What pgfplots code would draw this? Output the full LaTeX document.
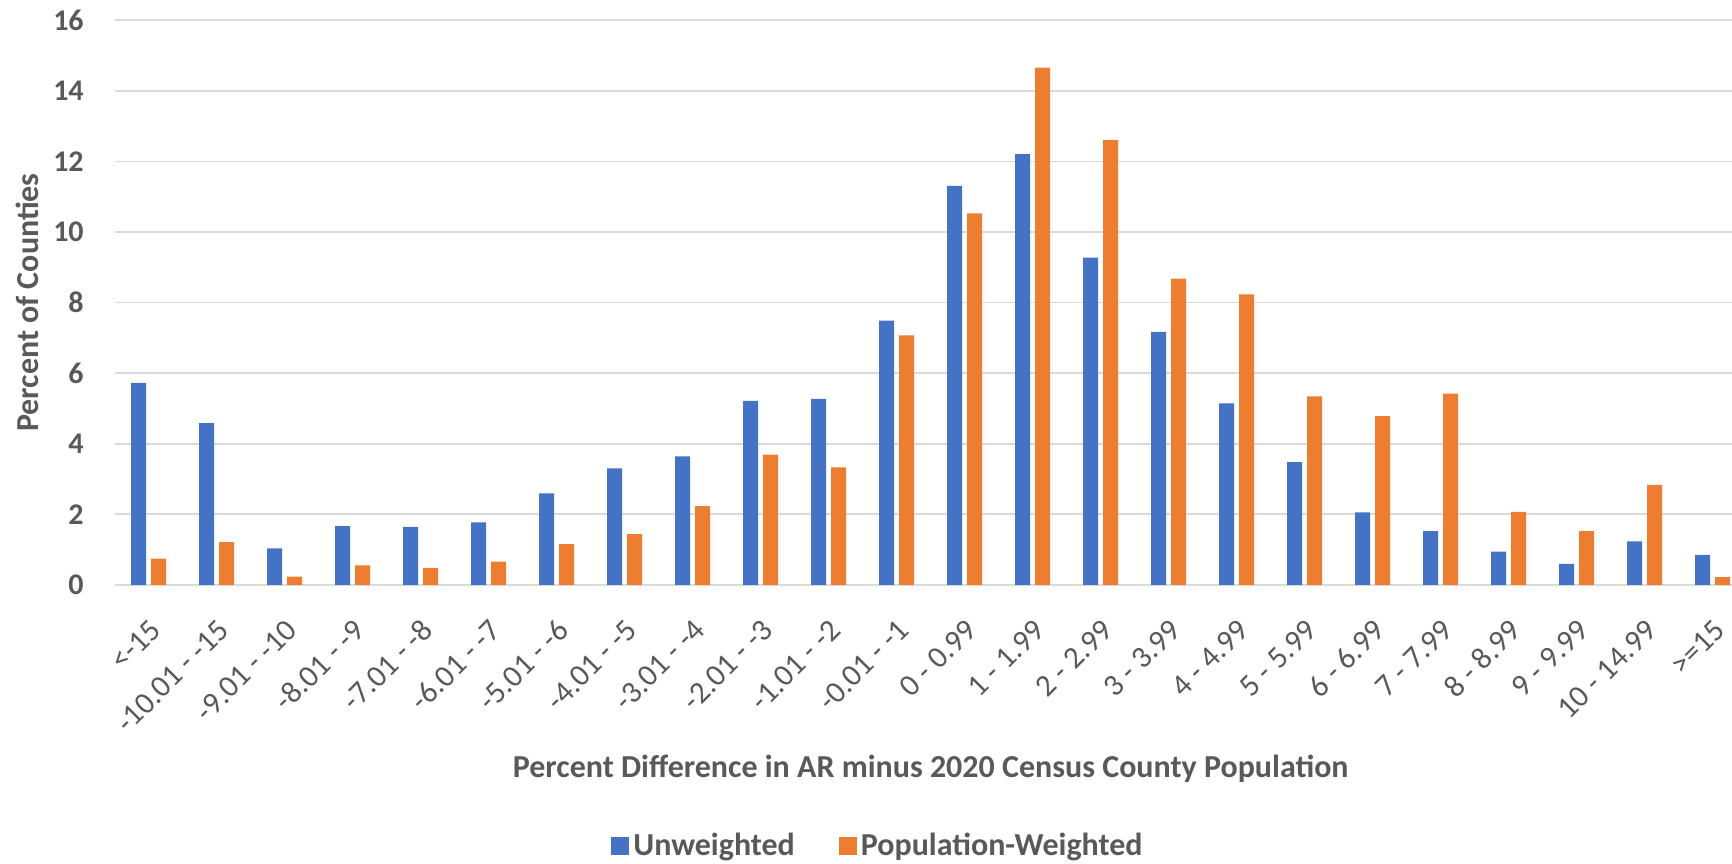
\documentclass[border=0pt]{standalone}
\usepackage{pgfplots}
\pgfplotsset{compat=1.18}
\usepackage{fontspec}
\setmainfont{Carlito}
\definecolor{barblue}{HTML}{4472C4}
\definecolor{barorange}{HTML}{ED7D31}
\definecolor{txt}{HTML}{595959}
\definecolor{gridc}{HTML}{D9D9D9}
\begin{document}
\begin{tikzpicture}
\path[use as bounding box] (0,0) rectangle (866pt,431.5pt);
\begin{axis}[
  at={(57.35pt,139.1pt)}, anchor=south west,
  scale only axis, width=816pt, height=282.25pt,
  ybar=2.5pt, bar width=7.5pt,
  xmin=-0.5, xmax=23.5, ymin=0, ymax=16,
  xtick=data,
  xticklabels={{<-15},{-10.01 - -15},{-9.01 - -10},{-8.01 - -9},{-7.01 - -8},{-6.01 - -7},{-5.01 - -6},{-4.01 - -5},{-3.01 - -4},{-2.01 - -3},{-1.01 - -2},{-0.01 - -1},{0 - 0.99},{1 - 1.99},{2 - 2.99},{3 - 3.99},{4 - 4.99},{5 - 5.99},{6 - 6.99},{7 - 7.99},{8 - 8.99},{9 - 9.99},{10 - 14.99},{>=15}},
  ytick={0,2,...,16},
  /pgf/number format/assume math mode=true,
  major tick length=0pt,
  axis line style={draw=none},
  ymajorgrids, grid style={color=gridc, line width=0.9pt},
  tick label style={font=\fontsize{15.5}{18}\selectfont, text=txt},
  yticklabel style={font=\fontsize{15}{18}\selectfont\bfseries, anchor=east, inner sep=0pt, xshift=-15.3pt},
  xticklabel style={xshift=3.5pt, yshift=-20pt, rotate=45, anchor=east, inner sep=0pt},
  ylabel={Percent of Counties},
  ylabel style={font=\fontsize{16}{19}\selectfont\bfseries, text=txt, at={(axis description cs:-0.0609,0.5)}, anchor=north, inner sep=0pt, rotate=0},
  xlabel={Percent Difference in AR minus 2020 Census County Population},
  xlabel style={font=\fontsize{16}{19}\selectfont\bfseries, text=txt, at={(axis description cs:0.5,-0.3405)}, anchor=base, inner sep=0pt},
  legend columns=2,
  legend style={at={(axis description cs:0.4683,-0.4627)}, anchor=center, draw=none, fill=none,
    font=\fontsize{16}{19}\selectfont\bfseries, text=txt,
    /tikz/every even column/.append style={column sep=20pt}},
  legend image code/.code={\fill[#1] (0pt,-4.5pt) rectangle (9pt,4.5pt);},
]
\addplot[fill=barblue, draw=none] coordinates {
 (0,5.72) (1,4.58) (2,1.03) (3,1.66) (4,1.64) (5,1.77) (6,2.59) (7,3.30)
 (8,3.64) (9,5.21) (10,5.27) (11,7.49) (12,11.31) (13,12.21) (14,9.27) (15,7.17)
 (16,5.14) (17,3.48) (18,2.05) (19,1.52) (20,0.94) (21,0.59) (22,1.23) (23,0.85)};
\addplot[fill=barorange, draw=none] coordinates {
 (0,0.74) (1,1.21) (2,0.23) (3,0.55) (4,0.48) (5,0.66) (6,1.15) (7,1.44)
 (8,2.23) (9,3.69) (10,3.33) (11,7.07) (12,10.53) (13,14.66) (14,12.61) (15,8.68)
 (16,8.23) (17,5.34) (18,4.78) (19,5.42) (20,2.07) (21,1.52) (22,2.83) (23,0.22)};
\legend{Unweighted, Population-Weighted}
\end{axis}
\end{tikzpicture}
\end{document}
